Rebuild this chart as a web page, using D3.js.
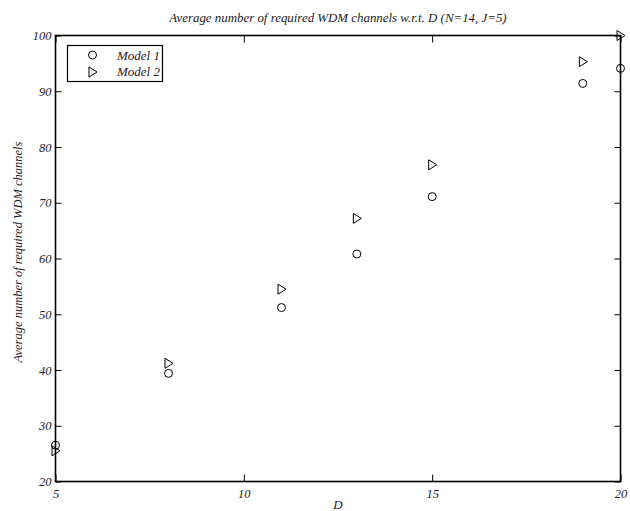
<!DOCTYPE html>
<html><head><meta charset="utf-8">
<script src="https://cdn.jsdelivr.net/npm/d3@7"></script>
<style>body{margin:0;background:#fff}svg{display:block}text{font-family:"Liberation Serif",serif;font-style:italic;fill:#222}</style>
</head><body><svg id="c" width="630" height="511"></svg>
<script>
const dValues = [5, 8, 11, 13, 15, 19, 20];
const model1 = [26.5, 39.4, 51.2, 60.8, 71.1, 91.4, 94.1];
const model2 = [25.5, 41.2, 54.5, 67.2, 76.8, 95.3, 100];
const xTicks = [5, 10, 15, 20];
const yTicks = [20, 30, 40, 50, 60, 70, 80, 90, 100];
const seriesNames = ["Model 1", "Model 2"];

const svg = d3.select("#c");
const L = 55.5, R = 620.5, T = 35.5, B = 481.5;
const x = d3.scaleLinear().domain([5, 20]).range([L, R]);
const y = d3.scaleLinear().domain([20, 100]).range([B, T]);

// box
const axes = svg.append("g").attr("stroke", "#000").attr("stroke-width", 1.6).attr("fill", "none");
axes.append("rect").attr("x", L).attr("y", T).attr("width", R - L).attr("height", B - T);

// axes with inward ticks
const gx = svg.append("g").attr("transform", `translate(0,${B})`)
  .call(d3.axisBottom(x).tickValues(xTicks).tickSize(-7).tickPadding(10).tickFormat(d3.format("d")));
const gxt = svg.append("g").attr("transform", `translate(0,${T})`)
  .call(d3.axisTop(x).tickValues(xTicks).tickSize(-7).tickFormat(""));
const gy = svg.append("g").attr("transform", `translate(${L},0)`)
  .call(d3.axisLeft(y).tickValues(yTicks).tickSize(-6).tickPadding(4).tickFormat(d3.format("d")));
const gyr = svg.append("g").attr("transform", `translate(${R},0)`)
  .call(d3.axisRight(y).tickValues(yTicks).tickSize(-6).tickFormat(""));
[gx, gxt, gy, gyr].forEach(g => {
  g.select(".domain").remove();
  g.selectAll(".tick line").attr("stroke", "#000").attr("stroke-width", 1);
  g.selectAll("text").attr("font-size", 12.5).attr("fill", "#222").style("font-family", '"Liberation Serif",serif').style("font-style", "italic");
});
gx.selectAll("text").attr("dy", "0.5em");

// title and labels
svg.append("text").attr("x", (L + R) / 2).attr("y", 22).attr("text-anchor", "middle").attr("font-size", 12.9)
  .text("Average number of required WDM channels w.r.t. D (N=14, J=5)");
svg.append("text").attr("x", (L + R) / 2).attr("y", 509).attr("text-anchor", "middle").attr("font-size", 13).text("D");
svg.append("text").attr("transform", `translate(22,252) rotate(-90)`).attr("text-anchor", "middle")
  .attr("font-size", 12.5).text("Average number of required WDM channels");

// markers
const tri = (cx, cy) => `M${cx - 3.5},${cy - 5}L${cx + 4.5},${cy}L${cx - 3.5},${cy + 5}Z`;
const marks = svg.append("g").attr("fill", "none").attr("stroke", "#000").attr("stroke-width", 1);
marks.selectAll("circle.m1").data(dValues.map((d, i) => [d, model1[i]])).join("circle")
  .attr("class", "m1").attr("cx", d => x(d[0])).attr("cy", d => y(d[1])).attr("r", 4);
marks.selectAll("path.m2").data(dValues.map((d, i) => [d, model2[i]])).join("path")
  .attr("class", "m2").attr("d", d => tri(x(d[0]), y(d[1])));

// legend
const lg = svg.append("g");
lg.append("rect").attr("x", 67.5).attr("y", 45.5).attr("width", 95).attr("height", 36)
  .attr("fill", "#fff").attr("stroke", "#000").attr("stroke-width", 1.2);
lg.append("circle").attr("cx", 92.5).attr("cy", 55).attr("r", 4).attr("fill", "none").attr("stroke", "#000");
lg.append("path").attr("d", tri(92.5, 72)).attr("fill", "none").attr("stroke", "#000");
seriesNames.forEach((n, i) => lg.append("text").attr("x", 117).attr("y", 59.5 + i * 16.5).attr("font-size", 13).text(n));
</script></body></html>
